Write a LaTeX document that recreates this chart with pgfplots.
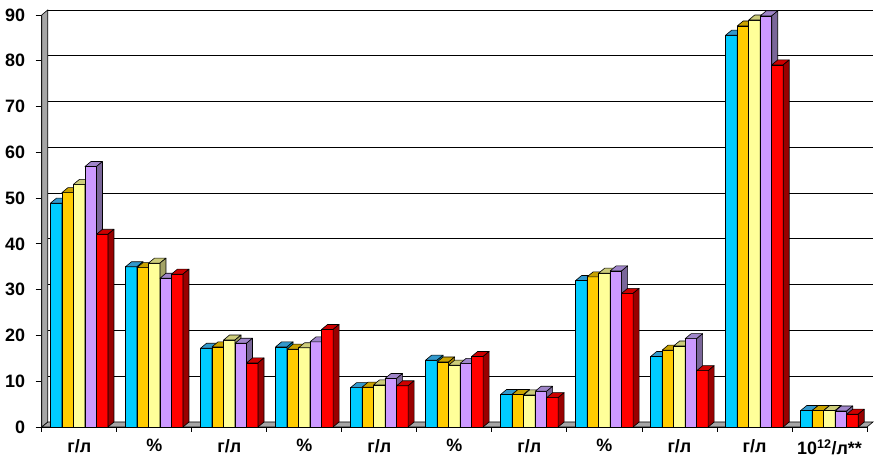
\documentclass[border=0pt]{standalone}
\usepackage{pgfplots}
\pgfplotsset{compat=1.18}
\usepackage{pgfplotstable}
\usepackage{fontspec}
\setmainfont{Liberation Sans}
\definecolor{cA}{HTML}{00CCFF}\definecolor{tA}{HTML}{3399CC}\definecolor{sA}{HTML}{0088BB}
\definecolor{cB}{HTML}{FFCC00}\definecolor{tB}{HTML}{C9A200}\definecolor{sB}{HTML}{A88600}
\definecolor{cC}{HTML}{FFFF99}\definecolor{tC}{HTML}{CCCC7A}\definecolor{sC}{HTML}{A3A366}
\definecolor{cD}{HTML}{CC99FF}\definecolor{tD}{HTML}{9F85C9}\definecolor{sD}{HTML}{7A6699}
\definecolor{cE}{HTML}{FF0000}\definecolor{tE}{HTML}{CC0000}\definecolor{sE}{HTML}{990000}
\definecolor{wallgray}{HTML}{A6A6A6}
\newdimen\barh
\pgfplotstableread{
g a b c d e
0 48.9 51.2 53.0 56.9 42.1
1 35.0 34.8 35.8 32.5 33.4
2 17.2 17.5 19.0 18.3 14.0
3 17.5 17.0 17.3 18.6 21.3
4 8.6 8.7 9.2 10.6 9.0
5 14.6 14.2 13.5 13.9 15.4
6 7.1 7.1 7.0 7.8 6.4
7 32.0 32.8 33.6 34.1 29.2
8 15.4 16.8 17.7 19.3 12.3
9 85.6 87.6 88.9 89.8 79.1
10 3.6 3.6 3.6 3.5 2.8
}\data
\pgfplotsset{
  bar3d/.style n args={4}{%
    scatter, only marks, mark=*, mark size=0pt,
    visualization depends on={\thisrow{#1} \as \val},
    scatter/@pre marker code/.code={%
      \pgfkeys{/pgf/fpu=true,/pgf/fpu/output format=fixed}%
      \pgfmathparse{\val*4.595}\xdef\hh{\pgfmathresult}%
      \pgfkeys{/pgf/fpu=false}%
      \barh=\hh pt
      \filldraw[fill=#2, draw=black, line width=0.7bp]
        (-5.75bp,0pt) rectangle ([yshift=-\barh]5.75bp,0pt);
      \filldraw[fill=#3, draw=black, line width=0.6bp, line join=round]
        (-5.75bp,0pt) -- (5.75bp,0pt) -- (11.75bp,5bp) -- (0.25bp,5bp) -- cycle;
      \filldraw[fill=#4, draw=black, line width=0.6bp, line join=round]
        (5.75bp,0pt) -- (11.75bp,5bp) -- ([yshift=-\barh]11.75bp,5bp) -- ([yshift=-\barh]5.75bp,0pt) -- cycle;
    },
    scatter/@post marker code/.code={}
  }
}
\begin{document}
\begin{tikzpicture}
\begin{axis}[name=ax, scale only axis, width=825.3bp, height=412bp,
  xmin=-0.5, xmax=10.5, ymin=0, ymax=90, clip=false,
  axis x line*=bottom, axis y line*=left,
  axis line style={black, line width=0.8bp, -},
  xtick={0,...,10},
  xticklabels={г/л,\%,г/л,\%,г/л,\%,г/л,\%,г/л,г/л,10\textsuperscript{12}/л**},
  minor xtick={-0.5,0.5,...,10.5},
  ytick={0,10,...,90},
  tick align=outside, major tick length=6bp, minor tick length=5bp,
  major x tick style={draw=none},
  minor x tick style={black, line width=0.8bp},
  y tick style={black, line width=0.8bp},
  ymajorgrids,
  major grid style={black, line width=0.8bp, xshift=6bp, yshift=5bp},
  tick label style={font=\fontsize{18}{20}\selectfont\bfseries},
  /pgf/number format/assume math mode=true,
  yticklabel style={xshift=-7bp},
  xticklabel style={yshift=-3bp},
]
\filldraw[fill=wallgray, draw=black, line width=0.6bp]
  (axis cs:-0.5,0) -- (axis cs:10.5,0) -- ([shift={(6bp,5bp)}]axis cs:10.5,0) -- ([shift={(6bp,5bp)}]axis cs:-0.5,0) -- cycle;
\filldraw[fill=wallgray, draw=black, line width=0.6bp]
  (axis cs:-0.5,0) -- ([shift={(6bp,5bp)}]axis cs:-0.5,0) -- ([shift={(6bp,5bp)}]axis cs:-0.5,90) -- (axis cs:-0.5,90) -- cycle;

\addplot[bar3d={a}{cA}{tA}{sA}] table[x expr=\thisrow{g}-0.3066, y=a] {\data};
\addplot[bar3d={b}{cB}{tB}{sB}] table[x expr=\thisrow{g}-0.1533, y=b] {\data};
\addplot[bar3d={c}{cC}{tC}{sC}] table[x expr=\thisrow{g}, y=c] {\data};
\addplot[bar3d={d}{cD}{tD}{sD}] table[x expr=\thisrow{g}+0.1533, y=d] {\data};
\addplot[bar3d={e}{cE}{tE}{sE}] table[x expr=\thisrow{g}+0.3066, y=e] {\data};
\end{axis}
\pgfresetboundingbox
\path ([shift={(-41.7bp,-33bp)}]ax.south west) rectangle ([shift={(17bp,15bp)}]ax.north east);
\end{tikzpicture}
\end{document}
